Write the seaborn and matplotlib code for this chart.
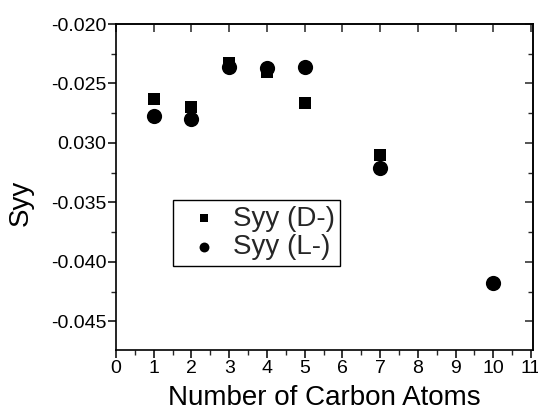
import matplotlib
matplotlib.use("Agg")
import matplotlib.pyplot as plt
import seaborn as sns
import pandas as pd
from matplotlib.ticker import MultipleLocator, FixedLocator

carbons_d = [1, 2, 3, 4, 5, 7]
syy_d = [-0.0263, -0.0270, -0.0233, -0.0240, -0.0266, -0.0310]
carbons_l = [1, 2, 3, 4, 5, 7, 10]
syy_l = [-0.0277, -0.0280, -0.0236, -0.0237, -0.0236, -0.0321, -0.0418]
label_d = "Syy (D-)"
label_l = "Syy (L-)"

sns.set_theme(style="white")
plt.rcParams['font.family'] = ['Liberation Sans', 'DejaVu Sans']

df_d = pd.DataFrame({"x": carbons_d, "y": syy_d, "series": label_d})
df_l = pd.DataFrame({"x": carbons_l, "y": syy_l, "series": label_l})

fig = plt.figure(figsize=(5.38, 4.19), dpi=100)
ax = fig.add_axes([0.2156, 0.1647, 0.775, 0.778])

sns.scatterplot(data=df_d, x="x", y="y", marker="s", s=80, color="black",
                edgecolor="black", linewidth=0, label=label_d, ax=ax, zorder=3)
sns.scatterplot(data=df_l, x="x", y="y", marker="o", s=120, color="black",
                edgecolor="black", linewidth=0, label=label_l, ax=ax, zorder=3)

ax.set_xlim(0, 11.05)
ax.set_ylim(-0.0474, -0.020)
ax.xaxis.set_major_locator(MultipleLocator(1))
ax.xaxis.set_minor_locator(MultipleLocator(0.5))
ax.yaxis.set_major_locator(FixedLocator([-0.045, -0.040, -0.035, -0.030, -0.025, -0.020]))
ax.yaxis.set_minor_locator(MultipleLocator(0.0025))
ax.set_yticklabels(["-0.045", "-0.040", "-0.035", "0.030", "-0.025", "-0.020"])

for sp in ax.spines.values():
    sp.set_color("black")
    sp.set_linewidth(1.2)

ax.tick_params(axis="both", which="major", direction="out", length=6, width=1.1,
               labelsize=14, colors="black", bottom=True, left=True, pad=1)
ax.tick_params(axis="both", which="minor", direction="out", length=3.5, width=1,
               bottom=True, left=True)

ax_top = ax.secondary_xaxis("top")
ax_top.xaxis.set_major_locator(MultipleLocator(1))
ax_top.tick_params(direction="in", length=6, width=1.1, labeltop=False)
ax_top.set_xticklabels([])
ax_right = ax.secondary_yaxis("right")
ax_right.yaxis.set_major_locator(MultipleLocator(0.005))
ax_right.yaxis.set_minor_locator(MultipleLocator(0.0025))
ax_right.tick_params(which="major", direction="in", length=6, width=1.1, labelright=False)
ax_right.tick_params(which="minor", direction="in", length=3.5, width=1)
ax_right.set_yticklabels([])
ax.tick_params(axis="x", which="both", top=False)
ax.tick_params(axis="y", which="both", right=False)

ax.set_xlabel("Number of Carbon Atoms", fontsize=20, color="black", labelpad=6)
ax.set_ylabel("Syy", fontsize=20, color="black")
ax.yaxis.set_label_coords(-0.197, 0.45)

leg = ax.legend(loc="upper left", bbox_to_anchor=(0.137, 0.460),
                fontsize=20, frameon=True, fancybox=False,
                edgecolor="black", framealpha=1, borderpad=0.2, handletextpad=0.15,
                labelspacing=0.1, handlelength=1.8, borderaxespad=0, markerscale=0.65)
leg.get_frame().set_linewidth(1.0)

fig.savefig("out.png", dpi=100, facecolor="white")
